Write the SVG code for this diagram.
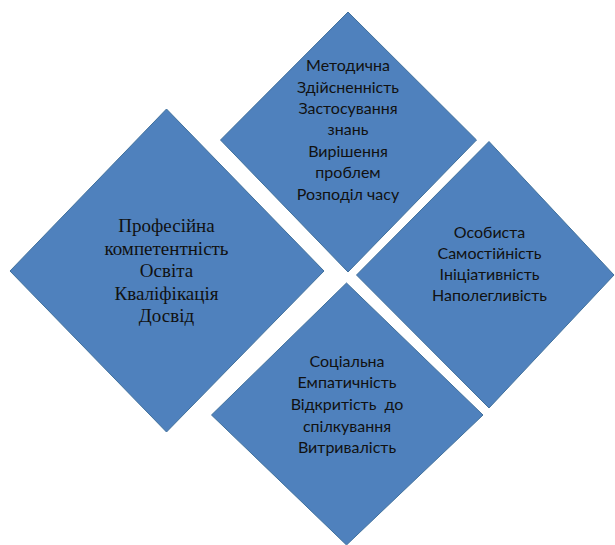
<svg xmlns="http://www.w3.org/2000/svg" width="615" height="545" viewBox="0 0 615 545">
<style>
.d{fill:#4F81BD;stroke:#41719C;stroke-width:1}
.s{font-family:Lato,"Open Sans","Liberation Sans",sans-serif;font-size:16px;fill:#111;text-anchor:middle}
.t{font-family:"Liberation Serif","Times New Roman","DejaVu Serif",serif;font-size:19px;fill:#111;text-anchor:middle}
</style>
<rect width="615" height="545" fill="#fff"/>
<g id="node-professional">
<polygon class="d" points="166.5,109 324,271 166.5,432 10,271"/>
<text class="t" x="166.5" y="231.5">Професійна</text>
<text class="t" x="166.5" y="254.5">компетентність</text>
<text class="t" x="166.5" y="277">Освіта</text>
<text class="t" x="166.5" y="299.5">Кваліфікація</text>
<text class="t" x="166.5" y="322">Досвід</text>
</g>
<g id="node-methodical">
<polygon class="d" points="348,12 476.5,140 348,272 220.5,140"/>
<text class="s" x="348" y="71">Методична</text>
<text class="s" x="348" y="92.5">Здійсненність</text>
<text class="s" x="348" y="113.5">Застосування</text>
<text class="s" x="348" y="135">знань</text>
<text class="s" x="348" y="156.5">Вирішення</text>
<text class="s" x="348" y="178">проблем</text>
<text class="s" x="348" y="200">Розподіл часу</text>
</g>
<g id="node-personal">
<polygon class="d" points="489,141.5 614,275 489,408 356.5,275"/>
<text class="s" x="489.5" y="237.5">Особиста</text>
<text class="s" x="489.5" y="259">Самостійність</text>
<text class="s" x="489.5" y="280">Ініціативність</text>
<text class="s" x="489.5" y="301">Наполегливість</text>
</g>
<g id="node-social">
<polygon class="d" points="346.5,283 483,415 346.5,545 211.5,415"/>
<text class="s" x="347" y="366.5">Соціальна</text>
<text class="s" x="347" y="388">Емпатичність</text>
<text class="s" x="347" y="410" xml:space="preserve">Відкритість  до</text>
<text class="s" x="347" y="431.5">спілкування</text>
<text class="s" x="347" y="453">Витривалість</text>
</g>
<g id="connectors"></g>
</svg>
